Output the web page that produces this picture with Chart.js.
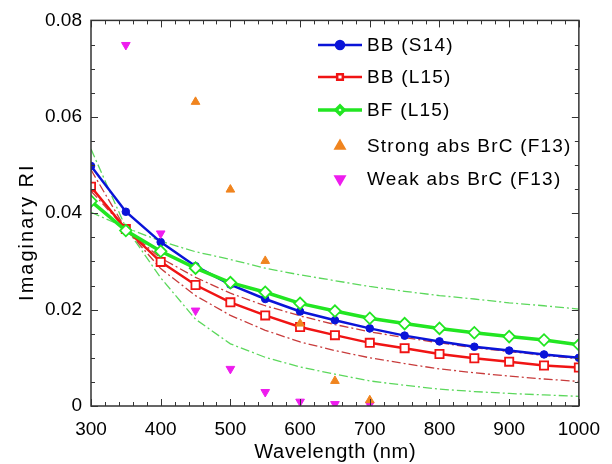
<!DOCTYPE html>
<html lang="en">
<head>
<meta charset="UTF-8" />
<title>Imaginary RI vs wavelength</title>
<script src="https://cdn.jsdelivr.net/npm/chart.js@4.4.0/dist/chart.umd.min.js"></script>
<style>
  html, body { margin: 0; padding: 0; background: #fff; }
  .chart-container { width: 612px; height: 464px; }
</style>
</head>
<body>
<div class="chart-container"><canvas id="myChart"></canvas></div>
<script>
// wavelengths (nm) shared by the model curves
const wavelength = [300, 350, 400, 450, 500, 550, 600, 650, 700, 750, 800, 850, 900, 950, 1000];

const bbS14 = [0.0498, 0.0403, 0.0340, 0.0290, 0.0252, 0.0222, 0.0196, 0.0178, 0.0161, 0.0146, 0.0134, 0.0123, 0.0115, 0.0107, 0.0100];
const bbL15 = [0.0455, 0.0367, 0.0299, 0.0251, 0.0215, 0.0188, 0.0164, 0.0147, 0.0131, 0.0120, 0.0108, 0.0099, 0.0092, 0.0084, 0.0080];
const bfL15 = [0.0425, 0.0364, 0.0321, 0.0286, 0.0256, 0.0236, 0.0213, 0.0197, 0.0182, 0.0171, 0.0161, 0.0152, 0.0144, 0.0137, 0.0127];

// dash-dot uncertainty curves
const bfSteep = [0.0533, 0.0370, 0.0266, 0.0180, 0.0129, 0.0101, 0.0081, 0.0066, 0.0052, 0.0043, 0.0035, 0.0030, 0.0026, 0.0023, 0.0020];
const bfFlat  = [0.0402, 0.0370, 0.0342, 0.0320, 0.0304, 0.0286, 0.0272, 0.0260, 0.0248, 0.0238, 0.0229, 0.0222, 0.0214, 0.0208, 0.0201];
const bbSteep = [0.0490, 0.0367, 0.0285, 0.0229, 0.0188, 0.0157, 0.0133, 0.0115, 0.0100, 0.0088, 0.0077, 0.0069, 0.0062, 0.0056, 0.0051];
const bbFlat  = [0.0446, 0.0367, 0.0307, 0.0267, 0.0234, 0.0208, 0.0187, 0.0169, 0.0154, 0.0142, 0.0131, 0.0121, 0.0113, 0.0105, 0.0098];

// F13 points
const strongWl  = [450, 500, 550, 600, 650, 700];
const strongVal = [0.0631, 0.0449, 0.0301, 0.0171, 0.0052, 0.0012];
const weakWl  = [350, 400, 450, 500, 550, 600, 650, 700];
const weakVal = [0.0749, 0.0358, 0.0198, 0.0077, 0.0029, 0.0009, 0.0004, 0.0003];

const xTicks = [300, 400, 500, 600, 700, 800, 900, 1000];
const yTicks = ["0", "0.02", "0.04", "0.06", "0.08"];
const xTitle = "Wavelength (nm)";
const yTitle = "Imaginary RI";

const FONT = "'Liberation Sans', Arial, sans-serif";

function pts(xs, ys) {
  return xs.map(function (x, i) { return { x: x, y: ys[i] }; });
}

function dashDot(label, ys, color) {
  return {
    label: label, data: pts(wavelength, ys), borderColor: color,
    borderWidth: 1.3, borderDash: [9, 3, 2, 3], pointRadius: 0,
    fill: false, order: 10, showInLegend: false
  };
}

// text with letter spacing, centred on (x, y)
function spacedText(ctx, text, x, y, spacing) {
  ctx.letterSpacing = spacing + "px";
  const w = ctx.measureText(text).width - spacing;
  ctx.textAlign = "left";
  ctx.fillText(text, x - w / 2, y);
  ctx.letterSpacing = "0px";
}

// inward ticks, frame and axis titles
const frame = {
  id: "frame",
  afterDatasetsDraw(chart) {
    const { ctx, chartArea: a, scales: { x, y } } = chart;
    ctx.save();
    ctx.strokeStyle = "#333";
    ctx.lineWidth = 1.5;
    ctx.strokeRect(a.left, a.top, a.right - a.left, a.bottom - a.top);
    ctx.lineWidth = 1;
    ctx.beginPath();
    for (let v = 300; v <= 1000; v += 20) {
      const px = Math.round(x.getPixelForValue(v)) + 0.5;
      const len = v % 100 === 0 ? 7 : 4;
      ctx.moveTo(px, a.bottom); ctx.lineTo(px, a.bottom - len);
      ctx.moveTo(px, a.top); ctx.lineTo(px, a.top + len);
    }
    for (let i = 0; i <= 16; i++) {
      const py = Math.round(y.getPixelForValue(i * 0.005)) + 0.5;
      const len = i % 4 === 0 ? 7 : 4;
      ctx.moveTo(a.left, py); ctx.lineTo(a.left + len, py);
      ctx.moveTo(a.right, py); ctx.lineTo(a.right - len, py);
    }
    ctx.stroke();

    ctx.fillStyle = "#000";
    ctx.font = "20px " + FONT;
    ctx.textBaseline = "middle";
    spacedText(ctx, xTitle, (a.left + a.right) / 2, 452, 0.7);
    ctx.translate(27, (a.top + a.bottom) / 2 + 20);
    ctx.rotate(-Math.PI / 2);
    spacedText(ctx, yTitle, 0, 0, 2);
    ctx.restore();
  }
};

// legend with line + marker samples
const legendRows = [45, 77, 110, 146, 179];
const legendBox = {
  id: "legendBox",
  afterDraw(chart) {
    const ctx = chart.ctx;
    const items = chart.data.datasets.filter(function (d) { return d.showInLegend !== false; });
    ctx.save();
    items.forEach(function (d, i) {
      const yy = legendRows[i];
      if (d.showLine !== false) {
        ctx.strokeStyle = d.borderColor;
        ctx.lineWidth = d.borderWidth;
        ctx.beginPath(); ctx.moveTo(318, yy); ctx.lineTo(362, yy); ctx.stroke();
      }
      ctx.fillStyle = d.pointBackgroundColor;
      ctx.strokeStyle = d.pointBorderColor;
      Chart.helpers.drawPoint(ctx, {
        pointStyle: d.pointStyle, rotation: d.pointRotation || 0,
        radius: 4, borderWidth: d.pointBorderWidth
      }, 340, yy);
      ctx.fillStyle = "#000";
      ctx.font = "19px " + FONT;
      ctx.textBaseline = "middle";
      ctx.textAlign = "left";
      ctx.letterSpacing = "1.2px";
      ctx.fillText(d.label, 367, yy + 1);
      ctx.letterSpacing = "0px";
    });
    ctx.restore();
  }
};

new Chart(document.getElementById("myChart"), {
  type: "line",
  data: {
    datasets: [
      {
        label: "BB (S14)", data: pts(wavelength, bbS14),
        borderColor: "#0a14d8", borderWidth: 2.5,
        pointStyle: "circle", pointRadius: 3.8, pointBorderWidth: 1,
        pointBackgroundColor: "#0a14d8", pointBorderColor: "#0a14d8", order: 2
      },
      {
        label: "BB (L15)", data: pts(wavelength, bbL15),
        borderColor: "#f01414", borderWidth: 2.5,
        pointStyle: "rect", pointRadius: 5.8, pointBorderWidth: 1.8,
        pointBackgroundColor: "#ffffff", pointBorderColor: "#f01414", order: 3
      },
      {
        label: "BF (L15)", data: pts(wavelength, bfL15),
        borderColor: "#22e622", borderWidth: 3.5,
        pointStyle: "rectRot", pointRadius: 5.8, pointBorderWidth: 1.8,
        pointBackgroundColor: "#ffffff", pointBorderColor: "#22e622", order: 1
      },
      {
        label: "Strong abs BrC (F13)", data: pts(strongWl, strongVal), showLine: false,
        pointStyle: "triangle", pointRadius: 5, pointBorderWidth: 1,
        pointBackgroundColor: "#f0841e", pointBorderColor: "#f0841e",
        borderColor: "#f0841e", order: 0
      },
      {
        label: "Weak abs BrC (F13)", data: pts(weakWl, weakVal), showLine: false,
        pointStyle: "triangle", pointRotation: 180, pointRadius: 5, pointBorderWidth: 1,
        pointBackgroundColor: "#ee1cee", pointBorderColor: "#ee1cee",
        borderColor: "#ee1cee", order: 0
      },
      dashDot("BF steep", bfSteep, "#5cd85c"),
      dashDot("BF flat", bfFlat, "#5cd85c"),
      dashDot("BB steep", bbSteep, "#c83c3c"),
      dashDot("BB flat", bbFlat, "#c83c3c")
    ]
  },
  options: {
    responsive: true,
    maintainAspectRatio: false,
    animation: false,
    layout: { padding: { top: 17, right: 27, left: 0, bottom: 0 } },
    plugins: { legend: { display: false }, tooltip: { enabled: false } },
    scales: {
      x: {
        type: "linear", min: 300, max: 1000,
        afterFit(s) { s.height = 58; },
        afterBuildTicks(s) { s.ticks = xTicks.map(function (v) { return { value: v }; }); },
        grid: { display: false, drawTicks: false },
        border: { display: false },
        ticks: { color: "#000", padding: 12, maxRotation: 0, font: { size: 19, family: FONT },
                 callback: function (v) { return String(v); } }
      },
      y: {
        min: 0, max: 0.08,
        afterFit(s) { s.width = 91; },
        afterBuildTicks(s) { s.ticks = yTicks.map(function (t) { return { value: parseFloat(t) }; }); },
        grid: { display: false, drawTicks: false },
        border: { display: false },
        ticks: { color: "#000", padding: 9, font: { size: 19, family: FONT },
                 callback: function (v, i) { return yTicks[i]; } }
      }
    }
  },
  plugins: [frame, legendBox]
});
</script>
</body>
</html>
